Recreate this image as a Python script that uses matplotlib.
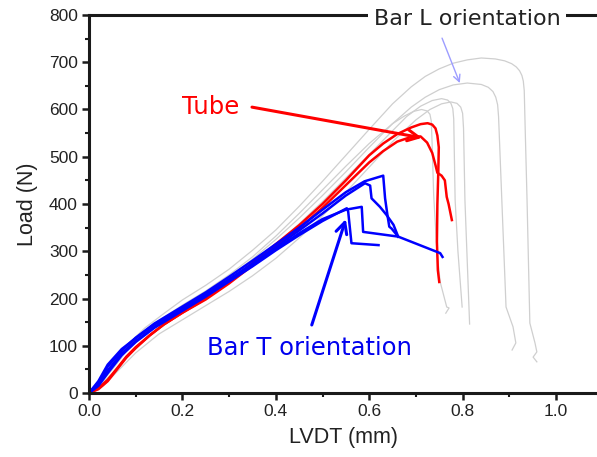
import matplotlib
matplotlib.use("Agg")
import matplotlib.pyplot as plt
from matplotlib.ticker import MultipleLocator

# Bar L orientation (gray) curves
g1_x = [0, 0.02, 0.05, 0.08, 0.12, 0.16, 0.2, 0.25, 0.3, 0.35, 0.4, 0.45, 0.5, 0.55,
        0.6, 0.65, 0.69, 0.72, 0.75, 0.78, 0.81, 0.84, 0.87, 0.89, 0.905, 0.915,
        0.922, 0.927, 0.93, 0.932, 0.934, 0.938, 0.944, 0.955, 0.959, 0.951, 0.959]
g1_y = [0, 20, 62, 100, 138, 168, 197, 228, 262, 302, 345, 395, 448, 503,
        558, 612, 648, 670, 686, 698, 705, 709, 707, 703, 697, 690,
        682, 672, 660, 640, 560, 408, 148, 106, 87, 76, 66]
g2_x = [0, 0.02, 0.05, 0.08, 0.12, 0.16, 0.2, 0.25, 0.3, 0.35, 0.4, 0.45, 0.5, 0.55,
        0.6, 0.65, 0.69, 0.72, 0.75, 0.78, 0.81, 0.84, 0.855, 0.865, 0.871, 0.875,
        0.877, 0.884, 0.893, 0.908, 0.914, 0.906]
g2_y = [0, 15, 50, 88, 125, 155, 182, 212, 245, 283, 325, 370, 418, 468,
        520, 570, 605, 626, 642, 652, 656, 653, 647, 638, 626, 610,
        585, 408, 182, 140, 106, 91]
g3_x = [0, 0.02, 0.05, 0.08, 0.12, 0.16, 0.2, 0.25, 0.3, 0.35, 0.4, 0.45, 0.5, 0.55,
        0.6, 0.65, 0.68, 0.71, 0.735, 0.755, 0.768, 0.775, 0.779, 0.781, 0.784,
        0.79, 0.799]
g3_y = [0, 12, 42, 78, 115, 143, 170, 200, 234, 272, 314, 358, 405, 455,
        505, 555, 585, 607, 619, 623, 620, 613, 602, 580, 408,
        300, 182]
g4_x = [0, 0.03, 0.06, 0.1, 0.15, 0.2, 0.25, 0.3, 0.35, 0.4, 0.45, 0.5, 0.55, 0.6,
        0.65, 0.7, 0.73, 0.755, 0.775, 0.788, 0.796, 0.8, 0.802, 0.805, 0.815]
g4_y = [0, 15, 45, 85, 125, 155, 185, 215, 248, 285, 328, 375, 425, 478,
        532, 578, 600, 612, 616, 613, 605, 592, 560, 408, 146]
g5_x = [0, 0.02, 0.05, 0.08, 0.12, 0.16, 0.2, 0.25, 0.3, 0.35, 0.4, 0.45, 0.5, 0.55,
        0.6, 0.65, 0.675, 0.695, 0.712, 0.724, 0.73, 0.733, 0.735, 0.738, 0.745,
        0.752, 0.766, 0.771, 0.764]
g5_y = [0, 18, 58, 95, 132, 160, 186, 216, 250, 288, 332, 380, 430, 480,
        528, 570, 586, 596, 600, 597, 590, 575, 520, 420, 300,
        235, 182, 180, 169]

# Tube (red) curves
r1_x = [0, 0.02, 0.04, 0.06, 0.08, 0.10, 0.13, 0.16, 0.2, 0.25, 0.3, 0.35, 0.4, 0.45,
        0.5, 0.55, 0.6, 0.63, 0.66, 0.69, 0.71, 0.725, 0.735, 0.742, 0.746, 0.749,
        0.748, 0.746, 0.745, 0.747, 0.75]
r1_y = [0, 8, 25, 50, 75, 95, 122, 145, 170, 200, 235, 275, 315, 355,
        400, 450, 503, 528, 548, 562, 569, 571, 568, 560, 545, 520,
        470, 400, 320, 260, 235]
r2_x = [0, 0.02, 0.04, 0.06, 0.08, 0.10, 0.13, 0.16, 0.2, 0.25, 0.3, 0.35, 0.4, 0.45,
        0.5, 0.55, 0.6, 0.63, 0.66, 0.69, 0.71, 0.724, 0.735, 0.742, 0.746, 0.755,
        0.762, 0.766, 0.77, 0.777]
r2_y = [0, 10, 28, 52, 77, 97, 122, 145, 170, 198, 232, 270, 310, 348,
        392, 440, 488, 512, 532, 542, 543, 530, 508, 482, 466, 460,
        450, 415, 400, 366]

# Bar T orientation (blue) curves
b1_x = [0, 0.02, 0.04, 0.07, 0.10, 0.14, 0.2, 0.25, 0.3, 0.35, 0.4, 0.45, 0.5, 0.55,
        0.59, 0.63, 0.634, 0.639, 0.643, 0.648, 0.662]
b1_y = [0, 22, 56, 90, 117, 147, 183, 213, 246, 280, 315, 350, 388, 425,
        448, 460, 412, 377, 352, 348, 331]
b2_x = [0, 0.02, 0.04, 0.07, 0.10, 0.14, 0.2, 0.25, 0.3, 0.35, 0.4, 0.45, 0.5, 0.55,
        0.591, 0.602, 0.605, 0.623, 0.637, 0.652, 0.662]
b2_y = [0, 25, 60, 93, 116, 145, 179, 209, 241, 274, 309, 344, 380, 418,
        444, 439, 412, 394, 377, 356, 331]
b3_x = [0, 0.02, 0.04, 0.07, 0.10, 0.14, 0.2, 0.25, 0.3, 0.35, 0.4, 0.45, 0.5, 0.55,
        0.584, 0.587, 0.662, 0.752, 0.757]
b3_y = [0, 18, 48, 84, 110, 140, 176, 205, 238, 270, 305, 338, 368, 388,
        394, 341, 331, 296, 288]
b4_x = [0, 0.02, 0.04, 0.07, 0.10, 0.14, 0.2, 0.25, 0.3, 0.35, 0.4, 0.45, 0.5, 0.552,
        0.555, 0.562, 0.620]
b4_y = [0, 15, 42, 80, 108, 138, 174, 204, 236, 268, 302, 334, 364, 391,
        384, 317, 313]

gray = [(g1_x, g1_y), (g2_x, g2_y), (g3_x, g3_y), (g4_x, g4_y), (g5_x, g5_y)]
red = [(r1_x, r1_y), (r2_x, r2_y)]
blue = [(b1_x, b1_y), (b2_x, b2_y), (b3_x, b3_y), (b4_x, b4_y)]

tick_font = 'Liberation Sans'

fig = plt.figure(figsize=(5.97, 4.57), dpi=100)
ax = fig.add_axes([0.1491, 0.140, 0.8509, 0.8272])

for xs, ys in gray:
    ax.plot(xs, ys, color='#cfcfcf', lw=0.9, solid_joinstyle='round')
for xs, ys in red:
    ax.plot(xs, ys, color='#ff0000', lw=1.8, solid_joinstyle='round')
for xs, ys in blue:
    ax.plot(xs, ys, color='#0000ff', lw=1.8, solid_joinstyle='round')

ax.set_xlim(0, 1.0878)
ax.set_ylim(0, 800)
ax.xaxis.set_minor_locator(MultipleLocator(0.1))
ax.yaxis.set_major_locator(MultipleLocator(100))
ax.yaxis.set_minor_locator(MultipleLocator(50))
ax.set_xticks([0, 0.2, 0.4, 0.6, 0.8, 1.0])
ax.set_xticklabels(['0.0', '0.2', '0.4', '0.6', '0.8', '1.0'])

ax.spines['right'].set_visible(False)
for s in ['left', 'bottom', 'top']:
    ax.spines[s].set_linewidth(2.2)
    ax.spines[s].set_color('#1a1a1a')
ax.tick_params(which='major', direction='out', length=5, width=1.8,
               color='#1a1a1a', labelsize=12.5, pad=3)
ax.tick_params(which='minor', direction='out', length=3, width=1.5, color='#1a1a1a')
ax.tick_params(axis='x', which='both', top=False)
for lab in ax.get_xticklabels() + ax.get_yticklabels():
    lab.set_fontfamily(tick_font)
    lab.set_color('#222222')

ax.set_xlabel('LVDT (mm)', fontsize=15.5, fontfamily=tick_font, color='#222222', labelpad=6)
ax.set_ylabel('Load (N)', fontsize=15.5, fontfamily=tick_font, color='#222222', labelpad=8)

# annotations
ax.text(0.261, 605, 'Tube', color='#ff0000', fontsize=17.5, ha='center', va='center')
ax.annotate('', xy=(0.713, 540), xytext=(0.349, 605),
            arrowprops=dict(arrowstyle='->', color='#ff0000', lw=2.2,
                            mutation_scale=20, shrinkA=0, shrinkB=0))

ax.text(0.81, 791, 'Bar L orientation', color='#222222', fontsize=16,
        ha='center', va='center', zorder=6, clip_on=False,
        bbox=dict(facecolor='white', edgecolor='none', pad=4))
ax.annotate('', xy=(0.794, 656), xytext=(0.756, 751),
            arrowprops=dict(arrowstyle='->', color='#9d9dff', lw=1.0,
                            mutation_scale=12, shrinkA=0, shrinkB=0))

ax.text(0.473, 95, 'Bar T orientation', color='#0000ee', fontsize=17.5,
        ha='center', va='center')
ax.annotate('', xy=(0.55, 368), xytext=(0.477, 144),
            arrowprops=dict(arrowstyle='->', color='#0000ff', lw=2.2,
                            mutation_scale=20, shrinkA=0, shrinkB=0))

fig.savefig('out.png', dpi=100)
